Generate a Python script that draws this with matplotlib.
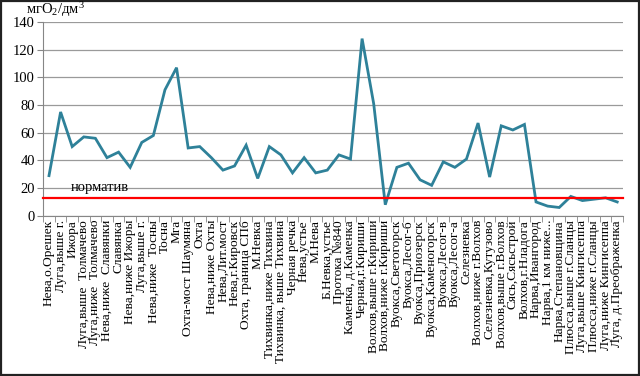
import matplotlib
matplotlib.use("Agg")
import matplotlib.pyplot as plt
import numpy as np
from matplotlib.patches import Rectangle

plt.rcParams['font.family'] = ['Liberation Serif', 'DejaVu Serif']
plt.rcParams['mathtext.fontset'] = 'custom'
plt.rcParams['mathtext.rm'] = 'Liberation Serif'
plt.rcParams['mathtext.it'] = 'Liberation Serif:italic'

categories = [
    "Нева,о.Орешек", "Луга,выше г.", "Ижора", "Луга,выше  Толмачево",
    "Луга,ниже  Толмачево", "Нева,ниже  Славянки", "Славянка", "Нева,ниже Ижоры",
    "Луга,выше г.", "Нева,ниже  Тосны", "Тосна", "Мга", "Охта-мост Шаумяна",
    "Охта", "Нева,ниже Охты", "Нева,Лит.мост", "Нева,г.Кировск",
    "Охта, граница СПб", "М.Невка", "Тихвинка,ниже Тихвина",
    "Тихвинка, выше Тихвина", "Черная речка", "Нева,устье", "М.Нева",
    "Б.Невка,устье", "Протока №840", "Каменка, д.Каменка", "Черная,г.Кириши",
    "Волхов,выше г.Кириши", "Волхов,ниже г.Кириши", "Вуокса,Светогорск",
    "Вуокса,Лесог-б", "Вуокса,Приозерск", "Вуокса,Каменогорск", "Вуокса,Лесог-в",
    "Вуокса,Лесог-а", "Селезневка", "Волхов,ниже г.Волхов", "Селезневка,Кутузово",
    "Волхов,выше г.Волхов", "Сясь,Сясьстрой", "Волхов,г.Нладога",
    "Нарва,Ивангород", "Нарва,1 км ниже...", "Нарва,Степановщина",
    "Плюсса,выше г.Сланцы", "Луга,выше Кингисеппа", "Плюсса,ниже г.Сланцы",
    "Луга,ниже Кингисеппа", "Луга, д.Преображенка",
]
values = [29, 75, 50, 57, 56, 42, 46, 35, 53, 58, 91, 107, 49, 50, 42, 33, 36,
          51, 27, 50, 44, 31, 42, 31, 33, 44, 41, 128, 81, 8, 35, 38, 26, 22,
          39, 35, 41, 67, 28, 65, 62, 66, 10, 7, 6, 14, 11, 12, 13, 10]
norm_value = 12.7
norm_label = "норматив"
y_label = r"мгО$_\mathrm{2}$/дм$^\mathrm{3}$"
y_ticks = [0, 20, 40, 60, 80, 100, 120, 140]

fig = plt.figure(figsize=(6.4, 3.76), dpi=100)
ax = fig.add_axes([43.2/640, 1-215.8/376, (623-43.2)/640, (215.8-22)/376])

x = np.arange(len(values))
ax.plot(x, values, color='#2E8199', lw=2.0, solid_joinstyle='miter', zorder=3)
ax.plot([-0.5, len(values) - 0.5], [norm_value, norm_value], color='#FF0000', lw=1.6, zorder=4, clip_on=False)
ax.text(1.9, norm_value + 3.0, norm_label, fontsize=10.5, va='bottom', ha='left')

ax.set_xlim(-0.5, len(values) - 0.5)
ax.set_ylim(0, 140)
ax.set_yticks(y_ticks)
ax.tick_params(axis='y', labelsize=10.5, length=4, color='#868686', pad=2)
ax.yaxis.grid(True, color='#9A9A9A', lw=0.9)
ax.set_axisbelow(True)

ax.set_xticks(x)
ax.set_xticklabels(categories, rotation=90, fontsize=9.6)
ax.tick_params(axis='x', which='major', length=0, pad=3)
ax.set_xticks(np.arange(-0.5, len(values), 1), minor=True)
ax.tick_params(axis='x', which='minor', length=4, color='#868686')

for s in ['top', 'right']:
    ax.spines[s].set_visible(False)
for s in ['left', 'bottom']:
    ax.spines[s].set_color('#868686')

fig.text(26/640, 1-10/376, y_label, fontsize=10.5, va='center', ha='left')

fig.patches.append(Rectangle((0.0015, 0.0025), 0.997, 0.995, transform=fig.transFigure,
                             fill=False, edgecolor='#222222', lw=1.6))

fig.savefig("out.png", dpi=100)
